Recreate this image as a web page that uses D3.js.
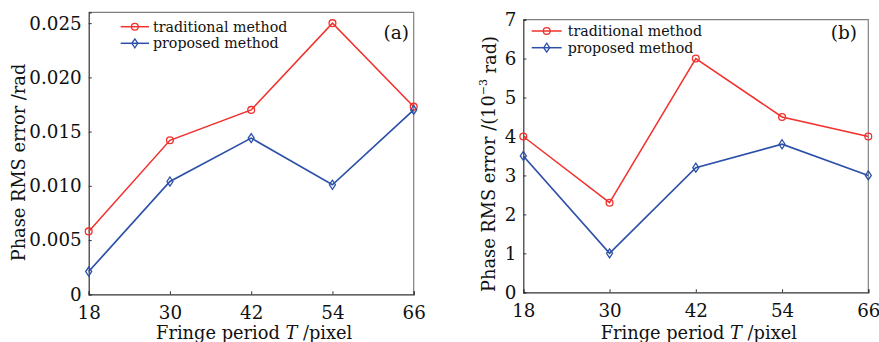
<!DOCTYPE html>
<html>
<head>
<meta charset="utf-8">
<script src="https://cdn.jsdelivr.net/npm/d3@7"></script>
<style>
  html, body { margin: 0; padding: 0; background: #fff; }
  svg { display: block; }
  text { font-family: "DejaVu Serif", "Liberation Serif", serif; fill: #111; }
</style>
</head>
<body>
<svg id="chart" width="879" height="342"></svg>
<script>
// Fringe periods (pixels) shared by both panels
const periods = [18, 30, 42, 54, 66];

// Panel (a): phase RMS error in rad
const tradA = [0.0058, 0.0142, 0.0170, 0.0250, 0.0173];
const propA = [0.0021, 0.0104, 0.0144, 0.0101, 0.0170];
const yTicksA = [0, 0.005, 0.010, 0.015, 0.020, 0.025];
const yTickLabelsA = ["0", "0.005", "0.010", "0.015", "0.020", "0.025"];

// Panel (b): phase RMS error in 10^-3 rad
const tradB = [4.0, 2.3, 6.0, 4.5, 4.0];
const propB = [3.5, 1.0, 3.2, 3.8, 3.0];
const yTicksB = [0, 1, 2, 3, 4, 5, 6, 7];
const yTickLabelsB = ["0", "1", "2", "3", "4", "5", "6", "7"];

const seriesNames = ["traditional method", "proposed method"];
const RED = "#f2302c", BLUE = "#2c50a8";
const TICK_FONT = 18.3, TITLE_FONT = 17.8;

const svg = d3.select("#chart");

function drawPanel(cfg) {
  const g = svg.append("g");
  const x = d3.scaleLinear().domain([18, 66]).range([cfg.left, cfg.right]);
  const y = d3.scaleLinear().domain(cfg.yDomain).range([cfg.bottom, cfg.top]);

  // top and right frame (lighter)
  g.append("path")
    .attr("d", `M${cfg.left},${cfg.top}H${cfg.right}V${cfg.bottom}`)
    .attr("fill", "none").attr("stroke", "#808080").attr("stroke-width", 1.2);

  // bottom axis
  const xAxis = d3.axisBottom(x).tickValues(periods).tickSize(-3).tickPadding(8)
    .tickFormat(d3.format("d"));
  const gx = g.append("g").attr("transform", `translate(0,${cfg.bottom})`).call(xAxis);
  gx.select(".domain").attr("stroke", "#333").attr("stroke-width", 1.2);
  gx.selectAll(".tick line").attr("stroke", "#333");
  gx.selectAll(".tick text").attr("font-size", TICK_FONT).attr("fill", "#111")
    .attr("font-family", "DejaVu Serif").attr("dy", "0.92em");

  // left axis
  const yAxis = d3.axisLeft(y).tickValues(cfg.yTicks).tickSize(-3).tickPadding(7)
    .tickFormat((d, i) => cfg.yTickLabels[i]);
  const gy = g.append("g").attr("transform", `translate(${cfg.left},0)`).call(yAxis);
  gy.select(".domain").attr("stroke", "#333").attr("stroke-width", 1.2);
  gy.selectAll(".tick line").attr("stroke", "#333");
  gy.selectAll(".tick text").attr("font-size", TICK_FONT).attr("fill", "#111")
    .attr("font-family", "DejaVu Serif");

  const line = d3.line().x((d, i) => x(periods[i])).y(d => y(d));

  // traditional series: red line with open circles
  g.append("path").datum(cfg.trad).attr("d", line)
    .attr("fill", "none").attr("stroke", RED).attr("stroke-width", 1.5);
  g.selectAll(".circ").data(cfg.trad).enter().append("circle")
    .attr("cx", (d, i) => x(periods[i])).attr("cy", d => y(d)).attr("r", 3.4)
    .attr("fill", "none").attr("stroke", RED).attr("stroke-width", 1.3);

  // proposed series: blue line with open diamonds
  const diamond = (cx, cy) => `M${cx},${cy - 4.5}L${cx + 3},${cy}L${cx},${cy + 4.5}L${cx - 3},${cy}Z`;
  g.append("path").datum(cfg.prop).attr("d", line)
    .attr("fill", "none").attr("stroke", BLUE).attr("stroke-width", 1.7);
  g.selectAll(".diam").data(cfg.prop).enter().append("path")
    .attr("d", (d, i) => diamond(x(periods[i]), y(d)))
    .attr("fill", "none").attr("stroke", BLUE).attr("stroke-width", 1.3);

  // legend
  const lg = cfg.legend;
  [[RED, "c"], [BLUE, "d"]].forEach(([col, mk], k) => {
    const ly = lg.y0 + k * lg.dy;
    g.append("line").attr("x1", lg.x0).attr("x2", lg.x1).attr("y1", ly).attr("y2", ly)
      .attr("stroke", col).attr("stroke-width", 1.5);
    const mx = (lg.x0 + lg.x1) / 2;
    if (mk === "c") {
      g.append("circle").attr("cx", mx).attr("cy", ly).attr("r", 3.4)
        .attr("fill", "none").attr("stroke", col).attr("stroke-width", 1.3);
    } else {
      g.append("path").attr("d", diamond(mx, ly))
        .attr("fill", "none").attr("stroke", col).attr("stroke-width", 1.3);
    }
    g.append("text").attr("x", lg.tx).attr("y", ly).attr("dy", "0.35em")
      .attr("font-size", 14.2).text(seriesNames[k]);
  });

  // panel tag
  g.append("text").attr("x", cfg.tag.x).attr("y", cfg.tag.y).attr("text-anchor", "end")
    .attr("font-size", 18.5).text(cfg.tag.text);

  // x-axis title
  const xt = g.append("text").attr("x", (cfg.left + cfg.right) / 2 + cfg.xTitleShift)
    .attr("y", 339).attr("text-anchor", "middle").attr("font-size", TITLE_FONT);
  xt.append("tspan").text("Fringe period ");
  xt.append("tspan").attr("font-style", "italic").text("T");
  xt.append("tspan").text(" /pixel");

  // y-axis title
  const yt = g.append("text")
    .attr("transform", `translate(${cfg.yTitle.x},${cfg.yTitle.y}) rotate(-90)`)
    .attr("text-anchor", "middle").attr("font-size", TITLE_FONT);
  cfg.yTitle.build(yt);
}

drawPanel({
  left: 88.7, right: 413.7, top: 12.3, bottom: 294.3,
  yDomain: [0, 0.026], yTicks: yTicksA, yTickLabels: yTickLabelsA,
  trad: tradA, prop: propA,
  legend: { x0: 120.7, x1: 149, tx: 153, y0: 26.7, dy: 16.6 },
  tag: { x: 409, y: 39, text: "(a)" },
  xTitleShift: 3,
  yTitle: { x: 25, y: 162.5, build: t => t.text("Phase RMS error /rad") }
});

drawPanel({
  left: 523.3, right: 868.3, top: 19.6, bottom: 292.3,
  yDomain: [0, 7], yTicks: yTicksB, yTickLabels: yTickLabelsB,
  trad: tradB, prop: propB,
  legend: { x0: 531.7, x1: 561.7, tx: 567.7, y0: 31, dy: 16.7 },
  tag: { x: 857, y: 39, text: "(b)" },
  xTitleShift: 3,
  yTitle: { x: 495, y: 164, build: t => {
    t.append("tspan").text("Phase RMS error /(10");
    t.append("tspan").attr("font-size", 11).attr("dy", "-0.75em").text("\u22123");
    t.append("tspan").attr("dy", "0.5em").text(" rad)");
  } }
});
</script>
</body>
</html>
